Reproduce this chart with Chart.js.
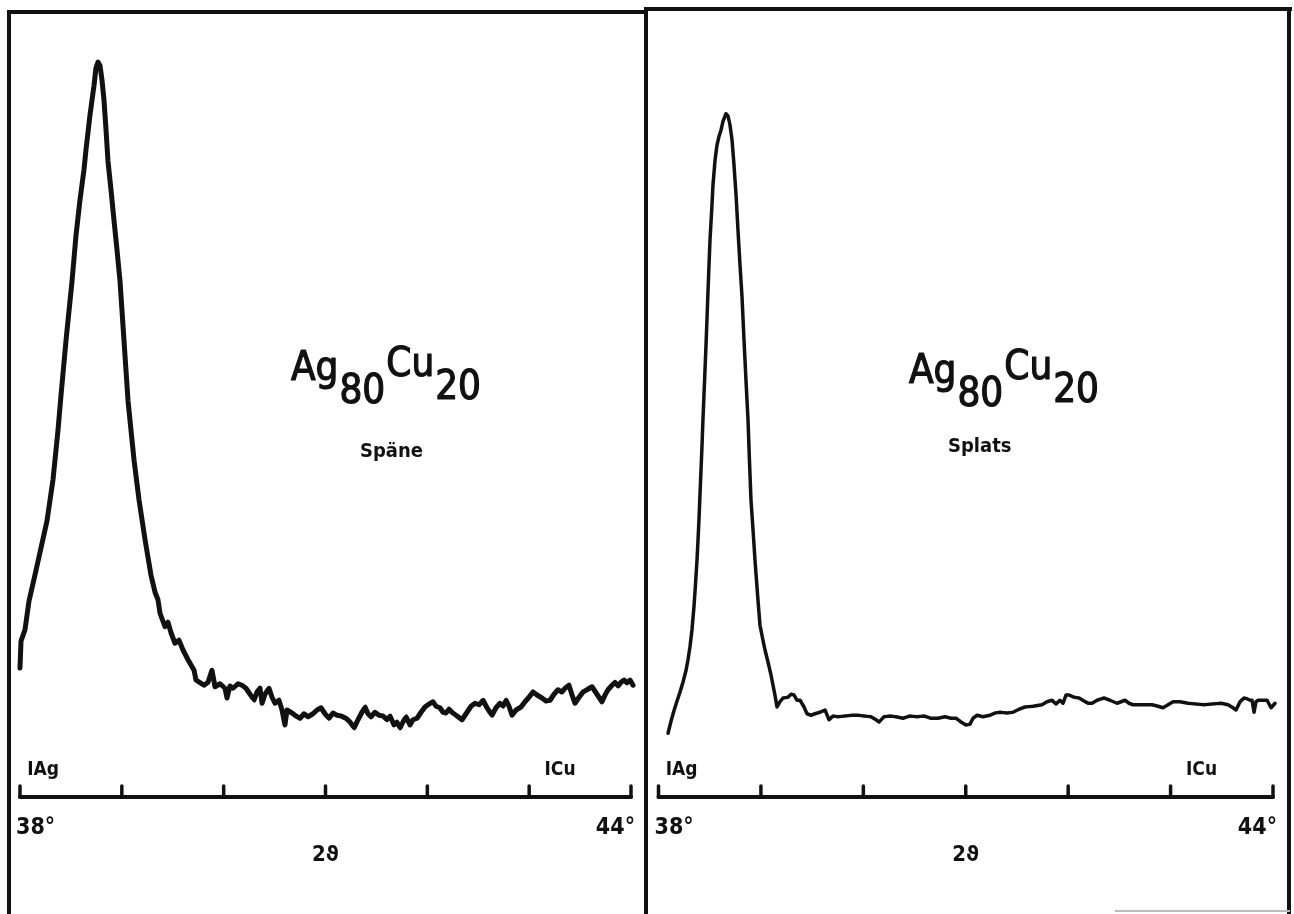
<!DOCTYPE html>
<html><head><meta charset="utf-8">
<script src="https://cdn.jsdelivr.net/npm/chart.js@4/dist/chart.umd.min.js"></script>
<style>
html,body{margin:0;padding:0;background:#fff;}
body{width:1294px;height:914px;position:relative;overflow:hidden;}
canvas{position:absolute;top:0;}
.frame{position:absolute;background:#111;}
</style></head><body>
<canvas id="c1" width="646" height="914" style="left:0px"></canvas>
<canvas id="c2" width="648" height="914" style="left:646px"></canvas>
<div class="frame" style="left:7px;top:10px;width:4px;height:904px"></div>
<div class="frame" style="left:7px;top:10px;width:640px;height:4px"></div>
<div class="frame" style="left:644px;top:8px;width:4px;height:906px"></div>
<div class="frame" style="left:644px;top:7px;width:648px;height:4px"></div>
<div class="frame" style="left:1287px;top:7px;width:4px;height:907px"></div>
<div class="frame" style="left:1115px;top:910px;width:175px;height:2px;background:#bbb"></div>
<script>
// ---- axis / labels ----
const xTicks = [38, 39, 40, 41, 42, 43, 44];
const xTickLabels = ['38°', '', '', '', '', '', '44°'];
const axisTitle = '2ϑ';
const refMarks = ['Ag', 'Cu'];
const refPositions = [38.1, 43.18];
const formulaElements = ['Ag', 'Cu'];
const formulaAmounts = ['80', '20'];
const sampleLabels = ['Späne', 'Splats'];

// ---- Späne (chips) : 2θ in degrees, intensity in arbitrary units ----
const speneAngle = [38.000,38.010,38.049,38.088,38.147,38.206,38.265,38.324,38.373,38.403,38.452,38.511,38.550,38.589,38.628,38.648,38.687,38.727,38.746,38.766,
38.786,38.805,38.825,38.845,38.864,38.894,38.923,38.953,38.982,39.021,39.061,39.090,39.120,39.169,39.228,39.286,39.326,39.355,39.375,39.424,
39.453,39.483,39.522,39.561,39.601,39.650,39.709,39.728,39.807,39.846,39.885,39.915,39.964,40.013,40.033,40.062,40.092,40.141,40.180,40.219,
40.259,40.298,40.327,40.357,40.377,40.406,40.445,40.475,40.504,40.543,40.573,40.602,40.622,40.671,40.710,40.750,40.789,40.828,40.877,40.917,
40.956,40.995,41.034,41.074,41.113,41.152,41.201,41.241,41.280,41.319,41.358,41.388,41.417,41.447,41.486,41.525,41.565,41.604,41.633,41.673,
41.702,41.732,41.761,41.791,41.830,41.859,41.899,41.938,41.977,42.017,42.056,42.085,42.124,42.154,42.183,42.213,42.242,42.291,42.341,42.390,
42.429,42.468,42.508,42.547,42.586,42.635,42.674,42.714,42.743,42.773,42.802,42.832,42.871,42.920,42.959,42.998,43.038,43.077,43.126,43.165,
43.205,43.244,43.283,43.322,43.352,43.391,43.421,43.450,43.490,43.529,43.568,43.617,43.666,43.715,43.745,43.774,43.814,43.843,43.873,43.902,
43.932,43.961,43.990,44.020];
const speneIntensity = [17.2,20.8,22.3,26.1,29.6,33.2,36.8,42.3,48.9,53.6,60.9,68.8,74.9,79.6,83.6,86.3,90.9,94.9,97.2,98.0,
97.5,95.6,92.9,88.9,84.8,80.9,76.9,72.9,68.8,60.9,52.8,48.9,44.9,39.6,34.3,29.6,27.3,26.3,24.5,22.7,
23.3,21.9,20.5,20.9,19.6,18.3,16.9,15.6,14.9,15.3,16.9,14.7,15.1,14.5,13.2,14.8,14.5,15.1,14.9,14.5,
13.7,12.9,14.0,14.5,12.5,13.7,14.5,13.3,12.5,12.9,11.6,9.6,11.6,11.2,10.8,10.5,11.1,10.7,11.1,11.6,
11.9,11.1,10.5,11.2,10.9,10.8,10.5,10.0,9.2,10.3,11.3,12.0,11.1,10.7,11.3,10.9,10.8,10.3,10.8,9.6,
10.0,9.2,10.0,10.7,9.6,10.3,10.5,11.3,12.0,12.4,12.7,12.1,11.9,11.3,11.2,11.7,11.3,10.8,10.3,11.3,
12.1,12.5,12.3,12.9,11.9,10.9,11.9,12.5,12.1,12.9,12.1,10.9,11.6,12.0,12.7,13.3,14.0,13.6,13.2,12.8,
12.9,13.7,14.3,14.0,14.5,14.9,13.6,12.5,13.3,14.0,14.3,14.7,13.7,12.7,13.6,14.3,14.9,15.3,14.8,15.3,
15.6,15.2,15.6,14.9];

// ---- Splats ----
const splatsAngle = [38.093,38.122,38.151,38.181,38.210,38.239,38.269,38.288,38.308,38.327,38.347,38.361,38.376,38.386,38.395,38.405,38.415,38.425,38.434,38.444,
38.454,38.464,38.474,38.483,38.493,38.503,38.518,38.532,38.552,38.571,38.591,38.610,38.630,38.659,38.679,38.698,38.718,38.737,38.757,38.776,
38.796,38.815,38.835,38.854,38.874,38.888,38.903,38.923,38.942,38.971,38.991,39.020,39.040,39.069,39.098,39.118,39.137,39.157,39.186,39.216,
39.264,39.294,39.323,39.352,39.382,39.421,39.450,
39.489,39.528,39.577,39.626,39.665,39.704,39.753,39.821,39.890,39.948,40.007,40.075,40.124,40.153,40.202,40.260,40.319,40.387,40.455,40.524,
40.592,40.660,40.729,40.797,40.856,40.905,40.954,41.002,41.041,41.071,41.110,41.168,41.237,41.286,41.334,41.403,41.461,41.520,41.578,41.657,
41.744,41.793,41.842,41.881,41.920,41.950,41.979,42.008,42.057,42.106,42.155,42.194,42.233,42.282,42.350,42.408,42.477,42.516,42.555,42.594,
42.633,42.702,42.760,42.819,42.877,42.926,42.975,43.024,43.092,43.170,43.248,43.326,43.404,43.492,43.561,43.609,43.639,43.678,43.717,43.746,
43.776,43.795,43.815,43.834,43.854,43.893,43.942,43.981,44.020,44.059];
const splatsIntensity = [8.5,10.1,11.5,12.8,14.0,15.3,16.9,18.3,20.1,22.3,25.5,28.3,31.6,34.3,36.9,40.3,43.6,46.9,50.3,53.6,
56.9,60.3,63.9,67.3,70.9,74.3,77.9,81.6,84.9,86.9,88.1,88.9,90.1,91.1,90.8,89.6,87.6,84.3,80.3,75.6,
70.9,66.8,60.9,55.6,50.3,44.9,39.6,35.6,31.6,26.3,22.9,20.9,19.6,18.0,16.3,14.9,13.6,12.0,12.7,13.2,
13.3,13.7,13.6,12.9,12.9,12.0,11.1,
10.9,11.1,11.3,11.6,10.3,10.8,10.7,10.8,10.9,10.9,10.8,10.7,10.3,10.0,10.7,10.8,10.7,10.5,10.8,10.7,
10.8,10.5,10.5,10.7,10.5,10.5,10.0,9.6,9.7,10.5,10.9,10.7,10.9,11.2,11.3,11.2,11.3,11.7,12.0,12.1,
12.3,12.7,12.9,12.4,12.9,12.5,13.6,13.6,13.3,13.2,12.8,12.5,12.5,12.9,13.2,12.9,12.5,12.7,12.9,12.5,
12.3,12.3,12.3,12.3,12.1,11.9,12.3,12.7,12.7,12.5,12.4,12.3,12.4,12.5,12.3,11.9,11.6,12.7,13.2,13.1,
12.9,12.9,11.3,12.7,12.9,12.9,12.9,11.9,12.5,13.3];

const INK = '#111';
const FONT = "'DejaVu Sans Condensed','DejaVu Sans',sans-serif";

const xrdPlugin = {
  id: 'xrdAxis',
  afterDraw(chart, args, o) {
    const ctx = chart.ctx, xs = chart.scales.x, ys = chart.scales.y;
    const y0 = ys.getPixelForValue(0);
    ctx.save();
    ctx.strokeStyle = INK; ctx.fillStyle = INK;
    ctx.lineWidth = 4; ctx.lineCap = 'round';
    ctx.beginPath();
    ctx.moveTo(xs.getPixelForValue(xTicks[0]), y0);
    ctx.lineTo(xs.getPixelForValue(xTicks[xTicks.length - 1]), y0);
    ctx.stroke();
    ctx.lineWidth = 3.5;
    xTicks.forEach(t => {
      const px = xs.getPixelForValue(t);
      ctx.beginPath(); ctx.moveTo(px, y0); ctx.lineTo(px, y0 - 11); ctx.stroke();
    });
    ctx.textBaseline = 'alphabetic';
    ctx.font = "bold 23px " + FONT;
    xTicks.forEach((t, i) => {
      if (!xTickLabels[i]) return;
      const px = xs.getPixelForValue(t);
      ctx.textAlign = i === 0 ? 'left' : 'right';
      ctx.fillText(xTickLabels[i], i === 0 ? px - 4 : px + 4, y0 + 37);
    });
    ctx.textAlign = 'center';
    ctx.font = "bold 22px " + FONT;
    ctx.fillText(axisTitle, xs.getPixelForValue(41), y0 + 64);
    ctx.font = "bold 19px " + FONT;
    ctx.textAlign = 'left';
    refMarks.forEach((m, i) => ctx.fillText('I' + m, xs.getPixelForValue(refPositions[i]) - 3, y0 - 22));
    // formula Ag80Cu20
    ctx.font = "40px " + FONT;
    ctx.lineWidth = 1.2; ctx.lineJoin = 'round';
    let x = o.formulaX;
    const put = (s, px, py) => { ctx.fillText(s, px, py); ctx.strokeText(s, px, py); };
    formulaElements.forEach((el, i) => {
      const b = o.formulaY - i * 4;
      put(el, x, b); x += ctx.measureText(el).width + 1;
      put(formulaAmounts[i], x, b + 23); x += ctx.measureText(formulaAmounts[i]).width + 1;
    });
    ctx.font = "bold 20px " + FONT;
    ctx.fillText(sampleLabels[o.sample], o.labelX, o.labelY);
    ctx.restore();
  }
};

function makeChart(id, angles, intens, lw, pad, annot) {
  return new Chart(document.getElementById(id), {
    type: 'line',
    data: { datasets: [{
      data: angles.map((a, i) => ({ x: a, y: intens[i] })),
      borderColor: INK, borderWidth: lw, pointRadius: 0, tension: 0.001,
      fill: false, clip: false, borderJoinStyle: 'round', borderCapStyle: 'round'
    }] },
    options: {
      responsive: false, animation: false, devicePixelRatio: 1,
      layout: { padding: pad },
      scales: {
        x: { type: 'linear', min: 38, max: 44, display: false },
        y: { min: 0, max: 100, display: false }
      },
      plugins: { legend: { display: false }, tooltip: { enabled: false }, xrdAxis: annot }
    },
    plugins: [xrdPlugin]
  });
}

makeChart('c1', speneAngle, speneIntensity, 5,
  { left: 20, right: 15, top: 47, bottom: 117 },
  { formulaX: 291, formulaY: 380, labelX: 360, labelY: 457, sample: 0 });
makeChart('c2', splatsAngle, splatsIntensity, 3.5,
  { left: 12.5, right: 21, top: 47, bottom: 117 },
  { formulaX: 263, formulaY: 383, labelX: 302, labelY: 452, sample: 1 });
</script>
</body></html>
